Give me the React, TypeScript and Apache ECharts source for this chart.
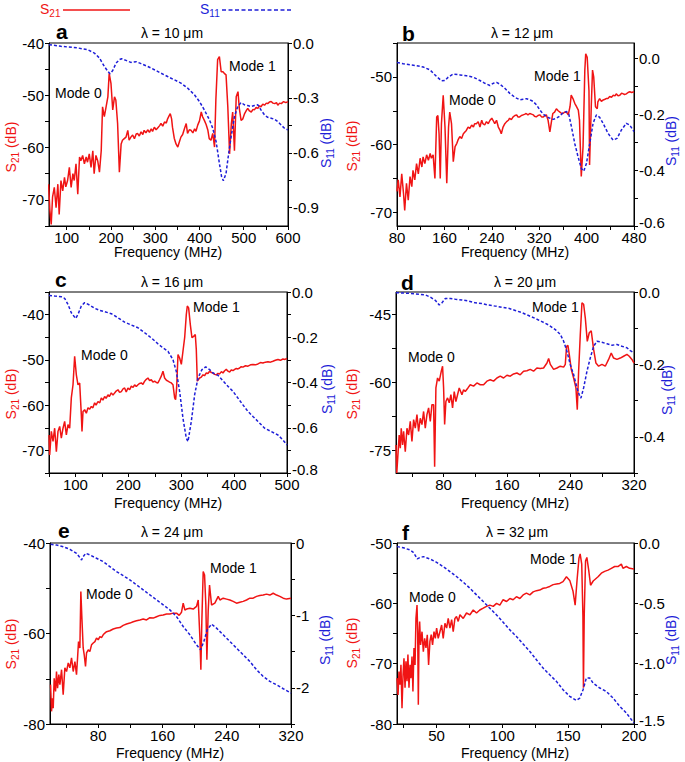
import React, { useEffect, useRef } from 'react';
import * as echarts from 'echarts';

const FONT = '"Liberation Sans", Arial, Helvetica, sans-serif';
const RED = '#f01414';
const BLUE = '#1e1ed8';

// ---------- data (frequency MHz, dB) ----------
const s21A = [[59,-67],[62,-72],[65,-74.7],[68,-69.5],[72,-67.6],[76,-71.5],[80,-67],[83,-72.8],[87,-66.3],[91,-68.3],[95,-65.7],[98,-67.5],[102,-66.3],[106,-63.8],[110,-67.6],[114,-65],[117,-66.3],[121,-63.1],[125,-68.9],[129,-61.8],[132,-62.5],[136,-61.5],[140,-63.1],[144,-61.8],[147,-62.8],[151,-61.2],[155,-63.8],[159,-60.6],[162,-65],[166,-61.5],[170,-62.5],[174,-64.7],[178,-60.6],[181,-52.2],[185,-54.1],[189,-52.2],[193,-50.3],[196,-45.8],[200,-47.7],[204,-52.8],[208,-50.3],[211,-50.9],[215,-55.4],[219,-64.7],[223,-59.3],[226,-58.6],[230,-58.3],[234,-58],[238,-56.7],[241,-58.6],[245,-58],[249,-57.6],[253,-58.3],[257,-57.4],[260,-57.3],[264,-57.8],[268,-57],[272,-57.5],[275,-56.7],[279,-57.2],[283,-56.6],[287,-57.1],[291,-56.4],[294,-56.9],[298,-56.1],[302,-56.6],[306,-56.2],[310,-55.8],[313,-55.4],[317,-55.9],[321,-55.1],[325,-55.3],[328,-54.5],[331,-54],[334,-53.5],[337,-54.5],[339,-56.1],[343,-58.2],[347,-59.3],[351,-59.9],[355,-58.8],[358,-58],[362,-57.5],[366,-56.4],[370,-55.4],[373,-57.3],[377,-56.6],[381,-56.7],[385,-57.2],[389,-56.4],[392,-56.9],[396,-55.7],[400,-54.9],[404,-53.2],[407,-54.1],[411,-54.8],[415,-55.6],[419,-56.7],[422,-58.3],[426,-58.6],[430,-57.3],[434,-59.9],[437,-50.9],[441,-43.2],[445,-42.6],[449,-45.5],[453,-45.5],[456,-45.8],[460,-46.1],[464,-52.2],[468,-61.2],[472,-55.4],[475,-53.2],[479,-60.6],[483,-50.3],[487,-49.3],[490,-52.5],[494,-54.8],[498,-54.5],[502,-53.5],[506,-52.9],[509,-52.5],[513,-53],[517,-53.2],[521,-52.7],[524,-52.8],[528,-52.3],[532,-52.5],[536,-52],[539,-52.2],[543,-51.7],[547,-51.9],[551,-51.5],[554,-51.6],[558,-51.3],[562,-51.2],[566,-51.5],[570,-51.6],[574,-51.4],[577,-51.9],[581,-51.5],[585,-51.6],[590,-51.2],[595,-51.4],[600,-51.2]];
const s11A = [[60,-0.009],[87,-0.018],[125,-0.027],[147.5,-0.037],[162.5,-0.055],[174,-0.082],[185,-0.128],[193,-0.155],[198,-0.168],[204,-0.15],[211.5,-0.11],[219,-0.091],[224,-0.086],[234,-0.095],[245,-0.106],[257,-0.102],[268,-0.113],[283,-0.128],[298,-0.146],[313,-0.165],[328,-0.183],[343,-0.201],[358,-0.219],[373.5,-0.247],[388.6,-0.283],[400,-0.32],[411,-0.366],[422.5,-0.42],[430,-0.466],[437.6,-0.539],[445,-0.658],[450,-0.731],[454,-0.753],[460,-0.713],[466,-0.603],[471.5,-0.512],[479,-0.402],[486.6,-0.347],[494,-0.325],[501.7,-0.338],[509,-0.342],[517,-0.347],[524,-0.342],[532,-0.338],[539,-0.366],[547,-0.393],[554,-0.406],[562,-0.411],[569.5,-0.417],[577,-0.43],[584.5,-0.448],[592,-0.466],[600,-0.475]];

const s21B = [[80,-66.9],[82,-65.2],[85,-67.7],[88,-64.3],[91,-67.2],[93,-69.7],[96,-65.7],[99,-68.2],[102,-64.7],[105,-66.2],[107,-63.8],[110,-65.2],[113,-62.8],[116,-64.3],[119,-62],[122,-63.3],[124,-61.8],[127,-62.8],[130,-61.5],[133,-62.3],[136,-61.3],[138,-62],[141,-61.5],[144,-65],[147,-55.9],[149,-55.7],[151,-58.4],[153,-65],[155,-56.9],[158,-52.7],[161,-57.4],[164,-65.7],[167,-57.4],[169,-55.2],[172,-56.9],[175,-62.5],[178,-60.3],[181,-59.8],[183,-59.3],[186,-58.8],[189,-59.1],[192,-58.4],[195,-58.1],[197,-57.9],[200,-57.4],[203,-57.6],[206,-57.1],[209,-57.4],[211,-56.9],[214,-56.9],[217,-56.6],[220,-57.4],[223,-56.4],[225,-56.9],[228,-57.1],[231,-56.6],[234,-56.9],[237,-56.4],[240,-56.1],[242,-56.4],[245,-56.9],[248,-56.4],[251,-57.4],[254,-57.9],[256,-58.4],[259,-57.4],[262,-56.9],[265,-56.6],[268,-56.4],[270,-56.1],[273,-56.3],[276,-55.9],[279,-55.7],[282,-55.6],[284,-55.9],[287,-55.9],[290,-55.7],[293,-55.6],[296,-55.5],[298,-55.4],[301,-55.6],[304,-55.4],[307,-55.5],[310,-55.6],[312,-55.8],[315,-55.9],[318,-55.7],[321,-55.6],[324,-55.9],[327,-55.9],[330,-55.7],[332,-55.6],[335,-56.4],[338,-58.1],[341,-56.4],[343,-55.4],[346,-55.2],[349,-54.7],[352,-55],[355,-55.2],[358,-55.4],[360,-55.4],[363,-55.2],[366,-55.2],[369,-55.6],[372,-54.4],[374,-52.7],[377,-53.2],[380,-53.9],[383,-54.4],[386,-54.9],[388,-56.4],[391,-64.7],[394,-60.3],[397,-49],[398.5,-46.6],[401,-47.1],[404,-52],[405,-63],[408,-54],[410,-49],[412,-50],[415,-54.4],[418,-54.7],[419,-53.7],[422,-53.2],[425,-53.6],[428,-53.4],[431,-53.3],[433,-53.2],[436,-53.2],[439,-52.9],[442,-53],[445,-52.7],[448,-52.8],[450,-52.5],[453,-52.8],[456,-52.7],[459,-52.4],[462,-52.5],[464,-52.6],[467,-52.5],[470,-52.3],[473,-52.2],[476,-52.3],[480,-52.2]];
const s11B = [[80,-0.016],[90.7,-0.02],[101.9,-0.024],[113.1,-0.027],[124.4,-0.032],[135.6,-0.042],[146.9,-0.066],[155.3,-0.081],[160.9,-0.08],[166.5,-0.068],[174.9,-0.057],[186.2,-0.06],[197.4,-0.063],[208.7,-0.068],[219.9,-0.08],[228.3,-0.09],[236.7,-0.098],[242.4,-0.09],[248,-0.087],[253.6,-0.093],[262,-0.108],[270.4,-0.126],[278.9,-0.14],[287.3,-0.149],[292.9,-0.147],[298.5,-0.145],[304.2,-0.149],[309.8,-0.155],[315.4,-0.167],[321,-0.185],[326.6,-0.2],[335,-0.212],[343.5,-0.219],[349.1,-0.215],[354.7,-0.207],[360.3,-0.195],[366,-0.191],[369.9,-0.2],[374.4,-0.245],[380,-0.305],[385.6,-0.353],[391.2,-0.395],[395.2,-0.404],[399.7,-0.377],[405.3,-0.305],[410.9,-0.233],[416.5,-0.203],[422.1,-0.212],[427.8,-0.233],[436.2,-0.269],[444.6,-0.293],[451.3,-0.287],[458.7,-0.257],[467.1,-0.233],[472.7,-0.239],[480,-0.263]];

const s21C = [[50,-66.6],[51.3,-71],[54.4,-65.8],[57.6,-68],[60.7,-65.1],[63.9,-70.3],[67,-65.8],[70.2,-64.7],[73.3,-67.3],[76.5,-65.1],[79.6,-63.6],[82.8,-66.6],[85.9,-64.3],[89.1,-65.1],[92.2,-58.4],[95.4,-55.5],[98.5,-49.2],[101.7,-53.3],[104.8,-55.5],[108,-55.1],[111.1,-62.1],[112.4,-65.8],[114.3,-61.4],[117.4,-61],[120.6,-61.8],[123.7,-60.6],[127,-60.9],[130,-60.3],[133,-60.6],[136.3,-59.5],[139,-60],[142.6,-59.2],[146,-59.5],[148.9,-58.4],[152,-58.9],[155.2,-58.1],[158,-58.5],[161.5,-57.7],[164,-58.1],[167.8,-57.3],[171,-57.8],[174.1,-57.3],[177,-56.9],[180.4,-56.6],[183.5,-57.2],[186.7,-57],[190,-56.4],[193,-56.2],[196,-57.1],[199.3,-56.2],[202.5,-56.6],[205.6,-55.8],[209,-56.1],[211.9,-55.5],[215,-55.9],[218.2,-55.5],[221.4,-55.2],[224.5,-55.1],[227.6,-55.4],[230.8,-54.7],[234,-54.3],[237.1,-54],[240.2,-54.6],[243.4,-54.4],[246.5,-54.9],[249.7,-54.7],[253,-55],[256,-55.1],[259,-54.4],[262.3,-53.6],[265.5,-52.5],[268.6,-54],[272,-54.5],[275,-54.7],[278,-54.9],[281.3,-55.1],[284.4,-55.5],[287.6,-58.4],[289.4,-58.8],[291.3,-56.2],[293.9,-48.8],[297,-49.6],[300.2,-51],[303.3,-48.1],[306.5,-45.1],[309.6,-40],[311.5,-38.1],[314,-38.5],[317.2,-42.2],[320.3,-45.1],[323.5,-44.8],[326.6,-44.4],[328.5,-47.7],[330.4,-54.7],[334.8,-54],[338,-53.8],[341.1,-53.3],[344,-53.5],[347.4,-52.9],[350.5,-53],[353.7,-52.5],[357,-52.8],[360,-52.9],[363,-53.2],[366.3,-53.3],[369.5,-53],[372.6,-53.1],[376,-52.6],[378.9,-52.9],[382,-52.4],[385.2,-52.1],[388.4,-52.5],[391.5,-52.7],[395,-52.2],[397.8,-52.4],[401,-52.1],[404.1,-51.9],[407.3,-52],[410.4,-51.8],[413.5,-51.5],[416.7,-51.6],[421.5,-51.3],[426.2,-51.4],[431,-51.1],[435.6,-51],[440.3,-51.1],[445.1,-50.9],[449.8,-50.6],[454.5,-50.7],[459.2,-50.5],[464,-50.4],[468.7,-50.5],[473.4,-50.3],[478,-50.1],[482.9,-49.9],[487.6,-50.1],[492.3,-49.8],[496,-49.9],[500,-49.7]];
const s11C = [[50,-0.015],[60.7,-0.018],[73.3,-0.021],[79.6,-0.028],[85.9,-0.055],[92.2,-0.092],[100.4,-0.117],[104.8,-0.099],[111.1,-0.062],[117.4,-0.047],[126.9,-0.058],[136.3,-0.072],[145.8,-0.081],[155.2,-0.087],[167.8,-0.096],[180.4,-0.114],[193,-0.133],[205.6,-0.146],[218.2,-0.158],[230.8,-0.18],[243.4,-0.203],[256,-0.229],[265.5,-0.247],[275,-0.262],[284.4,-0.299],[290.7,-0.351],[297,-0.439],[303.3,-0.558],[309.6,-0.646],[312.8,-0.661],[319.1,-0.572],[325.4,-0.454],[331.7,-0.38],[339.2,-0.343],[346.2,-0.331],[353.7,-0.343],[360,-0.358],[369.5,-0.368],[378.9,-0.392],[388.4,-0.417],[397.8,-0.439],[407.3,-0.469],[416.7,-0.499],[426.2,-0.528],[435.6,-0.55],[445.1,-0.572],[457.7,-0.602],[470.3,-0.617],[482.9,-0.632],[492.3,-0.654],[500,-0.676]];

const s21D = [[20,-73.8],[21,-80],[22.4,-76],[24,-71.6],[25.4,-74.5],[26.6,-70.1],[28.3,-73.8],[29.6,-70.8],[31.7,-75.3],[33.8,-70.1],[35.9,-71.6],[38,-68.6],[40.1,-73],[42.2,-68.2],[44.3,-70.1],[46.4,-67.1],[48.5,-70.8],[50.6,-67.9],[52.7,-69.3],[54.8,-66.4],[56.9,-70.1],[59,-67.1],[61.1,-65.6],[63.2,-68.6],[65.3,-64.9],[67.4,-64.9],[68.7,-78.6],[70.3,-61.2],[72.4,-59],[74.5,-59.7],[77.1,-57.5],[78.7,-56.4],[80,-61.2],[81.3,-69.3],[82.9,-64.2],[85,-63.4],[87.1,-64.5],[89.2,-62.7],[91.3,-65.6],[93.4,-62],[95.5,-64.2],[97.6,-62.7],[99.7,-61.2],[103.1,-62.7],[105.2,-61.6],[107.3,-62],[110.7,-61.2],[113.6,-60.5],[117.8,-60.8],[122,-60.1],[126.2,-60.5],[130.4,-60.5],[134.6,-59.7],[138.8,-59.4],[143,-59.7],[147.2,-59],[151.4,-58.6],[155.6,-59],[159.8,-58.4],[164,-58.6],[168.2,-58.1],[172.4,-57.9],[176.6,-58.3],[180.8,-57.5],[185,-57.4],[189.2,-57.1],[193.4,-57.5],[197.6,-56.8],[201.8,-56.9],[206,-56.8],[210.3,-55.7],[212.4,-54.7],[214.5,-56],[218.7,-57.1],[222.9,-56.8],[227.1,-56.4],[231.3,-56.6],[233.4,-56],[235,-52],[236.7,-51.8],[238.4,-53.8],[240.9,-57.1],[243.9,-59],[246.8,-61.2],[248.5,-66],[250.2,-57.5],[252.3,-49.4],[254.4,-42.4],[256.5,-42.7],[258.6,-45.7],[261.1,-50.9],[263.6,-49],[266.1,-48.6],[269.1,-52.7],[272,-55.7],[275.4,-56.4],[279.6,-56],[283.8,-56.4],[288,-54.9],[291.3,-53.5],[294.3,-54.6],[298.5,-54.9],[302.7,-54.6],[306.9,-54.2],[311.1,-53.8],[314,-54.2],[317.4,-54.9],[320,-55.7]];
const s11D = [[20,-0.002],[31.7,-0.003],[44.3,-0.005],[56.9,-0.008],[63.2,-0.014],[69.5,-0.023],[74.5,-0.036],[77.9,-0.03],[82.1,-0.018],[88.4,-0.018],[94.7,-0.02],[103.1,-0.022],[111.5,-0.025],[119.9,-0.03],[128.3,-0.032],[136.7,-0.036],[145.1,-0.039],[153.5,-0.042],[161.9,-0.045],[170.3,-0.051],[178.7,-0.057],[187.1,-0.065],[195.5,-0.073],[204,-0.082],[212.4,-0.091],[220.8,-0.104],[227.1,-0.117],[231.3,-0.136],[235.5,-0.164],[239.7,-0.201],[243.9,-0.228],[248.1,-0.265],[251,-0.284],[253.1,-0.293],[256.5,-0.265],[260.7,-0.219],[264.9,-0.182],[269.1,-0.15],[273.3,-0.136],[279.6,-0.139],[285.9,-0.143],[292.2,-0.147],[298.5,-0.145],[304.8,-0.15],[311.1,-0.154],[315.3,-0.162],[320,-0.168]];

const s21E = [[20.7,-71.3],[21.9,-77.2],[23.2,-74.3],[24,-76.5],[25.2,-69.9],[26.9,-72.8],[28.1,-68.4],[29.4,-72.1],[31,-69.1],[32.3,-71.3],[34.4,-68],[36.4,-73.5],[38.5,-67.6],[40.6,-68.4],[42.7,-66.5],[44.7,-67.6],[46.8,-65.4],[48.9,-68.4],[51,-66.2],[53,-69.1],[54.3,-65.4],[55.5,-61.8],[57.2,-63.2],[58.4,-50.7],[59.7,-56.6],[61.3,-63.2],[62.6,-64.7],[64.2,-67.3],[65.5,-64.3],[67.6,-63.6],[69.6,-64],[71.7,-62.5],[73.8,-62.1],[75.9,-61.8],[77.9,-61],[80,-61.4],[82.1,-60.7],[84.1,-60.9],[86.2,-60.3],[88.3,-59.9],[90.4,-59.6],[94.5,-59.4],[98.7,-59],[102.8,-58.8],[107,-58.7],[111.1,-58.2],[115.3,-57.9],[119.4,-57.7],[123.6,-57.4],[127.7,-57.2],[131.9,-57],[136,-56.8],[140.2,-57],[144.3,-56.5],[148.5,-56.6],[152.6,-56.3],[156.8,-56],[160.9,-55.9],[165.1,-55.7],[169.2,-55.7],[173.4,-55.5],[177.5,-55.5],[180.8,-56],[183.7,-55.3],[185.8,-53.3],[187.9,-54.8],[190,-54.6],[194.1,-54.4],[198.3,-54.6],[202.4,-54],[204.5,-52.6],[206.6,-61],[207.8,-68],[209,-57.4],[210.7,-46.3],[212.4,-47.1],[214,-53.7],[215.3,-65.8],[216.9,-55.1],[218.6,-49.3],[221.1,-53.7],[225.2,-53.3],[229.4,-51.8],[231.5,-52.6],[235.6,-52.2],[239.8,-52.4],[243.9,-52.6],[248,-52.9],[252.2,-53.3],[256.3,-53.1],[260.5,-52.9],[264.6,-52.6],[268.8,-52.2],[272.9,-52.2],[277.1,-51.8],[281.2,-51.6],[285.4,-51.5],[289.5,-51.3],[293.7,-51.5],[297.8,-51.1],[302,-51.5],[306.1,-51.8],[310.3,-52.2],[314.4,-52.4],[320,-52.2]];
const s11E = [[20.7,-0.018],[28.1,-0.028],[36.4,-0.051],[44.7,-0.087],[53,-0.142],[57.2,-0.202],[59.3,-0.234],[61.3,-0.188],[64.6,-0.142],[69.6,-0.165],[77.9,-0.211],[86.2,-0.257],[94.5,-0.326],[102.8,-0.395],[111.1,-0.45],[119.4,-0.51],[127.7,-0.579],[136,-0.648],[144.3,-0.717],[152.6,-0.786],[160.9,-0.855],[169.2,-0.924],[177.5,-1.016],[185.8,-1.153],[194.1,-1.268],[202.4,-1.406],[207.4,-1.475],[211.5,-1.36],[215.7,-1.199],[221.1,-1.121],[227.3,-1.176],[235.6,-1.268],[243.9,-1.36],[252.2,-1.452],[260.5,-1.544],[268.8,-1.636],[277.1,-1.751],[285.4,-1.843],[293.7,-1.912],[302,-1.958],[310.3,-2.013],[320,-2.073]];

const s21F = [[20,-72.4],[20.8,-75.2],[21.5,-71.3],[22.3,-73.5],[23,-70.2],[23.8,-77.4],[24.6,-71.8],[25.3,-69.1],[26.1,-74],[26.8,-69.6],[27.6,-72.9],[28.3,-68.5],[29.1,-74],[29.9,-70.2],[30.6,-72.4],[31.4,-68.8],[32.1,-74.6],[32.9,-67.4],[33.7,-70.2],[34.4,-62.5],[35.2,-60.3],[35.7,-64.7],[36.2,-76.8],[36.7,-65.8],[37.2,-63],[37.9,-66.9],[39,-64.7],[40,-68],[41,-65.8],[42,-67.4],[43,-65.2],[44,-70.2],[45,-66.3],[46,-65.2],[47,-66.9],[48.1,-64.7],[49.1,-65.8],[50.1,-64.1],[51.3,-65.8],[52.6,-64.7],[53.9,-63.6],[55.1,-65.8],[56.4,-63.3],[57.7,-64.1],[58.9,-62.5],[60.2,-64.1],[61.5,-62.7],[62.7,-64.7],[64,-62.5],[65.2,-62.2],[66.5,-63],[67.8,-61.9],[70.3,-62.5],[72.8,-61.6],[75.4,-61.9],[77.9,-61.1],[80.4,-61.6],[82.9,-61.1],[85.5,-60.8],[88,-60.5],[90.5,-60.3],[93.1,-60.5],[95.6,-60],[98.1,-60.3],[100.6,-59.4],[103.2,-59.7],[105.7,-59.2],[108.2,-59.4],[110.7,-58.9],[113.3,-59.2],[115.8,-58.6],[118.3,-58.3],[120.9,-58.6],[123.4,-58.1],[125.9,-57.9],[128.4,-57.8],[131,-57.5],[133.5,-57.4],[136,-57.2],[138.6,-56.9],[141.1,-56.8],[143.6,-56.7],[146.1,-56.4],[148.7,-55.6],[151.2,-56.2],[153.7,-58],[155.3,-60.3],[156.8,-56],[158.2,-52.5],[159.1,-51.8],[160.3,-53.5],[161.2,-62],[161.6,-74],[162.2,-62],[163.2,-53],[164.2,-52.4],[165.6,-54.5],[167,-57],[169,-56.3],[172.7,-55.6],[175.2,-55],[177.7,-54.7],[180.3,-54.5],[182.8,-54.2],[185.3,-53.9],[187.8,-53.9],[190.4,-53.5],[191.6,-54.2],[194.2,-53.9],[196.7,-54.2],[200,-54.3]];
const s11F = [[20,-0.03],[24.8,-0.039],[29.9,-0.058],[32.4,-0.077],[34.4,-0.113],[35.4,-0.132],[37.4,-0.121],[40,-0.113],[45,-0.132],[50.1,-0.16],[55.1,-0.196],[60.2,-0.237],[65.2,-0.278],[70.3,-0.325],[75.4,-0.375],[80.4,-0.43],[85.5,-0.485],[90.5,-0.54],[95.6,-0.596],[100.6,-0.656],[105.7,-0.72],[110.7,-0.775],[115.8,-0.838],[120.9,-0.899],[125.9,-0.968],[131,-1.037],[136,-1.092],[141.1,-1.147],[146.1,-1.216],[151.2,-1.271],[156.2,-1.304],[158.8,-1.285],[161.3,-1.216],[163.8,-1.119],[166.4,-1.119],[168.9,-1.161],[174,-1.202],[179,-1.23],[184.1,-1.285],[189.2,-1.354],[194.2,-1.409],[200,-1.492]];

const letters = ['a', 'b', 'c', 'd', 'e', 'f'];
const titles = ['λ = 10 μm', 'λ = 12 μm', 'λ = 16 μm', 'λ = 20 μm', 'λ = 24 μm', 'λ = 32 μm'];
const s21Sets = [s21A, s21B, s21C, s21D, s21E, s21F];
const s11Sets = [s11A, s11B, s11C, s11D, s11E, s11F];

// axis ranges
const xRanges = [[60, 600], [80, 480], [50, 500], [20, 320], [20, 320], [20, 200]];
const xLabelStep = [100, 80, 100, 80, 80, 50];
const xTickStep = [50, 40, 50, 40, 40, 25];
const ylRanges = [[-75, -40], [-72, -45], [-75, -35], [-80, -40], [-80, -40], [-80, -50]];
const ylLabels = [[-70, -60, -50, -40], [-70, -60, -50], [-70, -60, -50, -40], [-75, -60, -45], [-80, -60, -40], [-80, -70, -60, -50]];
const ylTickStep = [5, 5, 5, 7.5, 10, 5];
const yrRanges = [[-1, 0], [-0.6, 0.054], [-0.8, 0], [-0.5, 0], [-2.5, 0], [-1.5, 0]];
const yrLabels = [[-0.9, -0.6, -0.3, 0], [-0.6, -0.4, -0.2, 0], [-0.8, -0.6, -0.4, -0.2, 0], [-0.4, -0.2, 0], [-2, -1, 0], [-1.5, -1, -0.5, 0]];
const yrTickStep = [0.15, 0.1, 0.1, 0.1, 0.5, 0.25];
const yrDigits = [1, 1, 1, 1, 0, 1];

// ---------- layout ----------
const layout = [
  { grid: [49, 43, 239, 183], letter: [56, 31], title: [172, 33], yl: [11, 147], yr: [326, 143], xt: [168, 252], m0: [55, 93], m1: [229, 66] },
  { grid: [397, 43, 237, 183], letter: [402, 33], title: [522, 33], yl: [352, 146], yr: [671, 141], xt: [515, 252], m0: [449, 100], m1: [534, 76] },
  { grid: [49, 292, 238, 181], letter: [55, 279], title: [172, 282], yl: [11, 394], yr: [327, 389], xt: [168, 503], m0: [81, 355], m1: [193, 307] },
  { grid: [396, 292, 238, 181], letter: [401, 282], title: [525, 282], yl: [352, 394], yr: [667, 390], xt: [515, 503], m0: [408, 357], m1: [532, 307] },
  { grid: [50, 543, 241, 181], letter: [58, 530], title: [172, 532], yl: [11, 644], yr: [325, 640], xt: [170, 753], m0: [86, 594], m1: [210, 568] },
  { grid: [397, 543, 237, 181], letter: [402, 532], title: [517, 532], yl: [352, 643], yr: [671, 640], xt: [515, 753], m0: [409, 597], m1: [530, 559] },
];

function seq(a: number, b: number, s: number) {
  const out: number[] = [];
  for (let v = a; v <= b + 1e-9; v += s) out.push(Math.round(v * 1000) / 1000);
  return out;
}

const TICK_FS = 15;

function buildOption() {
  const grid: any[] = [];
  const xAxis: any[] = [];
  const yAxis: any[] = [];
  const series: any[] = [];
  const elements: any[] = [];

  const richSub = (color: string) => ({
    m: { fontSize: 14, fontFamily: FONT, fill: color, lineHeight: 18 },
    b: { fontSize: 10, fontFamily: FONT, fill: color, verticalAlign: 'bottom', lineHeight: 18 },
  });

  for (let i = 0; i < 6; i++) {
    const L = layout[i];
    const [gl, gt, gw, gh] = L.grid;
    grid.push({ left: gl, top: gt, width: gw, height: gh, show: true, borderColor: '#000', borderWidth: 1, backgroundColor: 'transparent' });
    const [xmin, xmax] = xRanges[i];
    const xLabels = seq(Math.ceil(xmin / xLabelStep[i]) * xLabelStep[i], xmax, xLabelStep[i]);
    const xTicks = seq(Math.ceil(xmin / xTickStep[i]) * xTickStep[i], xmax, xTickStep[i]);
    xAxis.push({
      type: 'value', gridIndex: i, min: xmin, max: xmax, position: 'bottom',
      axisLine: { show: true, onZero: false, lineStyle: { color: '#000', width: 1 } },
      axisTick: { show: true, inside: false, length: 4, customValues: xTicks, lineStyle: { color: '#000', width: 1 } },
      axisLabel: { customValues: xLabels, fontSize: TICK_FS, lineHeight: 12, color: '#000', fontFamily: FONT, margin: 5 },
      splitLine: { show: false },
    });
    const [ylmin, ylmax] = ylRanges[i];
    const ylTicks = seq(Math.ceil(ylmin / ylTickStep[i] - 1e-9) * ylTickStep[i], ylmax, ylTickStep[i]);
    yAxis.push({
      type: 'value', gridIndex: i, min: ylmin, max: ylmax, position: 'left',
      axisLine: { show: true, onZero: false, lineStyle: { color: '#000', width: 1 } },
      axisTick: { show: true, inside: false, length: 4, customValues: ylTicks, lineStyle: { color: '#000', width: 1 } },
      axisLabel: { customValues: ylLabels[i], fontSize: TICK_FS, lineHeight: 12, color: '#000', fontFamily: FONT, margin: 5 },
      splitLine: { show: false },
    });
    const [yrmin, yrmax] = yrRanges[i];
    const yrTicks = seq(Math.ceil(yrmin / yrTickStep[i] - 1e-9) * yrTickStep[i], yrmax, yrTickStep[i]);
    const dg = yrDigits[i];
    yAxis.push({
      type: 'value', gridIndex: i, min: yrmin, max: yrmax, position: 'right',
      axisLine: { show: true, onZero: false, lineStyle: { color: '#000', width: 1 } },
      axisTick: { show: true, inside: false, length: 4, customValues: yrTicks, lineStyle: { color: '#000', width: 1 } },
      axisLabel: {
        customValues: yrLabels[i], fontSize: TICK_FS, lineHeight: 10, color: '#000', fontFamily: FONT, margin: 5,
        formatter: (v: number) => {
          const s = (Math.abs(v) < 1e-9 ? 0 : v).toFixed(dg);
          return Math.abs(v - yrmin) < 1e-9 ? `{lo|${s}}` : s;
        },
        rich: { lo: { fontSize: TICK_FS, fontFamily: FONT, color: '#000', lineHeight: 10, padding: [0, 0, 7, 0] } },
      },
      splitLine: { show: false },
    });
    series.push({
      type: 'line', name: 'S21', xAxisIndex: i, yAxisIndex: 2 * i, data: s21Sets[i],
      symbol: 'none', silent: true, z: 2,
      lineStyle: { color: RED, width: 1.5 }, itemStyle: { color: RED },
    });
    series.push({
      type: 'line', name: 'S11', xAxisIndex: i, yAxisIndex: 2 * i + 1, data: s11Sets[i],
      symbol: 'none', silent: true, z: 3,
      lineStyle: { color: BLUE, width: 1.5, type: [3, 2] }, itemStyle: { color: BLUE },
    });

    // panel letter
    elements.push({ type: 'text', x: L.letter[0], y: L.letter[1], silent: true,
      style: { text: letters[i], fontSize: 21, fontWeight: 'bold', fontFamily: FONT, fill: '#000', align: 'left', verticalAlign: 'middle' } });
    // title
    elements.push({ type: 'text', x: L.title[0], y: L.title[1], silent: true,
      style: { text: titles[i], fontSize: 14, fontFamily: FONT, fill: '#000', align: 'center', verticalAlign: 'middle' } });
    // mode labels
    elements.push({ type: 'text', x: L.m0[0], y: L.m0[1], silent: true,
      style: { text: 'Mode 0', fontSize: 14, fontFamily: FONT, fill: '#000', align: 'left', verticalAlign: 'middle' } });
    elements.push({ type: 'text', x: L.m1[0], y: L.m1[1], silent: true,
      style: { text: 'Mode 1', fontSize: 14, fontFamily: FONT, fill: '#000', align: 'left', verticalAlign: 'middle' } });
    // axis titles
    elements.push({ type: 'text', x: L.yl[0], y: L.yl[1], rotation: Math.PI / 2, silent: true,
      style: { text: '{m|S}{b|21}{m| (dB)}', rich: richSub(RED), fill: RED, fontSize: 14, fontFamily: FONT, align: 'center', verticalAlign: 'middle' } });
    elements.push({ type: 'text', x: L.yr[0], y: L.yr[1], rotation: Math.PI / 2, silent: true,
      style: { text: '{m|S}{b|11}{m| (dB)}', rich: richSub(BLUE), fill: BLUE, fontSize: 14, fontFamily: FONT, align: 'center', verticalAlign: 'middle' } });
    elements.push({ type: 'text', x: L.xt[0], y: L.xt[1], silent: true,
      style: { text: 'Frequency (MHz)', fontSize: 14, lineHeight: 14, fontFamily: FONT, fill: '#000', align: 'center', verticalAlign: 'middle' } });
  }

  // legend drawn at top
  elements.push({ type: 'text', x: 40, y: 9, silent: true,
    style: { text: '{m|S}{b|21}', rich: richSub(RED), fill: RED, align: 'left', verticalAlign: 'middle' } });
  elements.push({ type: 'line', silent: true, shape: { x1: 63, y1: 10, x2: 130, y2: 10 }, style: { stroke: RED, lineWidth: 1.5 } });
  elements.push({ type: 'text', x: 200, y: 9, silent: true,
    style: { text: '{m|S}{b|11}', rich: richSub(BLUE), fill: BLUE, align: 'left', verticalAlign: 'middle' } });
  elements.push({ type: 'line', silent: true, shape: { x1: 222, y1: 10, x2: 293, y2: 10 }, style: { stroke: BLUE, lineWidth: 1.5, lineDash: [4, 2.5] } });

  return {
    animation: false,
    backgroundColor: '#fff',
    grid, xAxis, yAxis, series,
    graphic: { elements },
  };
}

export default function App() {
  const ref = useRef<HTMLDivElement>(null);
  useEffect(() => {
    if (!ref.current) return;
    const chart = echarts.init(ref.current, undefined, { renderer: 'svg' });
    chart.setOption(buildOption() as any);
    return () => chart.dispose();
  }, []);
  return <div ref={ref} style={{ position: 'absolute', left: 0, top: 0, width: 685, height: 762 }} />;
}
